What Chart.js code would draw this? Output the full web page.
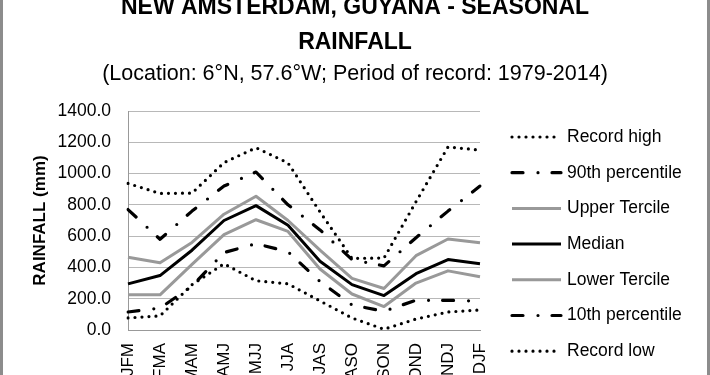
<!DOCTYPE html>
<html>
<head>
<meta charset="utf-8">
<script src="https://cdn.jsdelivr.net/npm/chart.js@4.4.1/dist/chart.umd.min.js"></script>
<style>
	html, body { margin: 0; background: #fff; }
	#wrap { width: 710px; height: 375px; position: relative; }
</style>
</head>
<body>
<div id="wrap"><canvas id="rainChart"></canvas></div>
<script>
const seasons = ['JFM', 'FMA', 'MAM', 'AMJ', 'MJJ', 'JJA', 'JAS', 'ASO', 'SON', 'OND', 'NDJ', 'DJF'];
const recordHigh = [937, 873, 875, 1070, 1165, 1068, 755, 458, 460, 820, 1170, 1150];
const pct90 = [770, 580, 760, 920, 1010, 800, 640, 450, 410, 590, 760, 920];
const upperTercile = [465, 430, 560, 740, 855, 700, 510, 330, 265, 475, 582, 558];
const median = [295, 348, 510, 700, 795, 670, 440, 290, 220, 360, 450, 424];
const lowerTercile = [225, 225, 420, 610, 705, 630, 390, 230, 150, 300, 378, 340];
const pct10 = [115, 140, 280, 495, 552, 500, 310, 160, 120, 190, 190, 185];
const recordLow = [77, 90, 290, 423, 315, 295, 186, 77, 5, 70, 115, 128];
const yTicks = [0, 200, 400, 600, 800, 1000, 1200, 1400];

const titleLines = ['NEW AMSTERDAM, GUYANA - SEASONAL', 'RAINFALL'];
const subtitle = '(Location: 6°N, 57.6°W; Period of record: 1979-2014)';

const fontFamily = "'Liberation Sans', Arial, sans-serif";
const dotted = [0, 7];
const dashDot = [11, 15, 0, 14];

const makeLine = (label, data, color, width, dash) => ({
	label,
	data,
	borderColor: color,
	borderWidth: width,
	borderDash: dash,
	borderCapStyle: dash.length ? 'round' : 'butt',
	borderJoinStyle: 'round',
	pointRadius: 0,
	tension: 0,
	fill: false,
});

const datasets = [
	makeLine('Record high', recordHigh, '#000', 3.2, dotted),
	makeLine('90th percentile', pct90, '#000', 3.2, dashDot),
	makeLine('Upper Tercile', upperTercile, '#999', 3, []),
	makeLine('Median', median, '#000', 3, []),
	makeLine('Lower Tercile', lowerTercile, '#999', 3, []),
	makeLine('10th percentile', pct10, '#000', 3.2, dashDot),
	makeLine('Record low', recordLow, '#000', 3.2, dotted),
];

// titles, side legend and frame drawn straight on the canvas
const decorations = {
	id: 'decorations',
	afterDraw(chart) {
		const ctx = chart.ctx;
		ctx.save();
		ctx.fillStyle = '#000';
		ctx.textAlign = 'center';
		ctx.textBaseline = 'middle';
		ctx.font = `bold 23px ${fontFamily}`;
		ctx.fillText(titleLines[0], 355, 8);
		ctx.fillText(titleLines[1], 355, 43);
		ctx.font = `21.5px ${fontFamily}`;
		ctx.fillText(subtitle, 355, 74);

		const startY = 137;
		const step = 35.7;
		chart.data.datasets.forEach((ds, i) => {
			const y = startY + i * step;
			ctx.beginPath();
			ctx.setLineDash(ds.borderDash);
			ctx.lineCap = ds.borderCapStyle;
			ctx.lineWidth = ds.borderWidth;
			ctx.strokeStyle = ds.borderColor;
			ctx.moveTo(512, y);
			ctx.lineTo(561, y);
			ctx.stroke();
			ctx.setLineDash([]);
			ctx.textAlign = 'left';
			ctx.font = `17.5px ${fontFamily}`;
			ctx.fillStyle = '#000';
			ctx.fillText(ds.label, 567, y);
		});

		ctx.fillStyle = '#8c8c8c';
		ctx.fillRect(0, 0, 3, 375);
		ctx.fillRect(707, 0, 3, 375);
		ctx.restore();
	},
};

new Chart(document.getElementById('rainChart'), {
	type: 'line',
	data: {
		labels: seasons,
		datasets,
	},
	options: {
		responsive: true,
		maintainAspectRatio: false,
		animation: false,
		layout: {
			padding: { top: 111, right: 230, left: 0, bottom: 0 },
		},
		plugins: {
			legend: { display: false },
			tooltip: { enabled: false },
		},
		scales: {
			x: {
				afterFit: (scale) => { scale.height = 45; },
				grid: { display: false, drawTicks: false },
				border: { display: true, color: '#999', width: 1 },
				ticks: {
					minRotation: 90,
					maxRotation: 90,
					padding: 13,
					color: '#000',
					font: { family: fontFamily, size: 17 },
				},
			},
			y: {
				min: 0,
				max: 1400,
				afterFit: (scale) => { scale.width = 128; },
				afterBuildTicks: (scale) => {
					scale.ticks = yTicks.map((value) => ({ value }));
				},
				grid: { color: '#b8b8b8', lineWidth: 1, drawTicks: false },
				border: { display: true, color: '#999', width: 1 },
				ticks: {
					padding: 17,
					color: '#000',
					font: { family: fontFamily, size: 17.5 },
					callback: (v) => Number(v).toFixed(1),
				},
				title: {
					display: true,
					text: 'RAINFALL (mm)',
					color: '#000',
					padding: { top: 30, bottom: 0 },
					font: { family: fontFamily, size: 17, weight: 'bold' },
				},
			},
		},
	},
	plugins: [decorations],
});
</script>
</body>
</html>
